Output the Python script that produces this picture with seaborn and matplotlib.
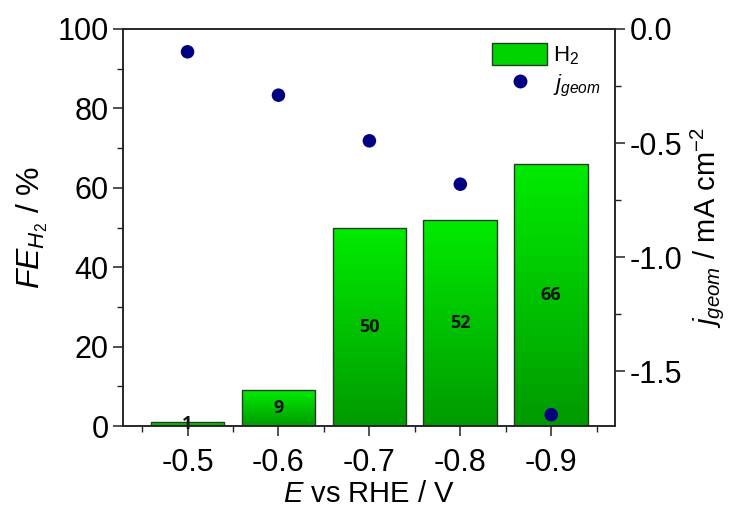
import numpy as np
import pandas as pd
import matplotlib
matplotlib.use("Agg")
import matplotlib.pyplot as plt
import seaborn as sns
from matplotlib.colors import LinearSegmentedColormap
from matplotlib.patches import Patch
from matplotlib.lines import Line2D
from matplotlib.ticker import MultipleLocator, FixedLocator

# ---- data ----
potentials = ["-0.5", "-0.6", "-0.7", "-0.8", "-0.9"]
fe_h2 = [1, 9, 50, 52, 66]
j_geom = [-0.10, -0.29, -0.49, -0.68, -1.69]
bar_labels = ["1", "9", "50", "52", "66"]

sns.set_style("ticks")
plt.rcParams["font.family"] = ["Liberation Sans", "DejaVu Sans"]
plt.rcParams["mathtext.fontset"] = "custom"
plt.rcParams["mathtext.rm"] = "Liberation Sans"
plt.rcParams["mathtext.it"] = "Liberation Sans:italic"
plt.rcParams["mathtext.bf"] = "Liberation Sans:bold"
plt.rcParams["text.color"] = "black"
plt.rcParams["axes.labelcolor"] = "black"
plt.rcParams["xtick.color"] = "black"
plt.rcParams["ytick.color"] = "black"

fig = plt.figure(figsize=(7.32, 5.14), dpi=100)
ax = fig.add_axes([0.168, 0.171, 0.672, 0.7726])

df = pd.DataFrame({"E": potentials, "FE": fe_h2})
sns.barplot(data=df, x="E", y="FE", order=potentials, ax=ax, width=0.81,
            color="#00c800", edgecolor="#2a3a2a", linewidth=1.0, saturation=1)

cmap = LinearSegmentedColormap.from_list("g", ["#009a00", "#00ec00"])
grad = np.linspace(0, 1, 256).reshape(-1, 1)
for bar in list(ax.patches):
    x0, y0 = bar.get_x(), bar.get_y()
    w, h = bar.get_width(), bar.get_height()
    im = ax.imshow(grad, extent=[x0, x0 + w, y0, y0 + h], aspect="auto",
                   cmap=cmap, origin="lower", zorder=bar.get_zorder() - 0.1)
    im.set_clip_path(bar)
    bar.set_facecolor("none")

for i, (v, lab) in enumerate(zip(fe_h2, bar_labels)):
    ax.text(i, v / 2, lab, ha="center", va="center", fontsize=13,
            fontweight="bold", color="#111111", family="Open Sans", zorder=5)

ax.set_xlim(-0.71, 4.70)
ax.set_ylim(0, 100)
ax.yaxis.set_major_locator(MultipleLocator(20))
ax.yaxis.set_minor_locator(MultipleLocator(10))
ax.xaxis.set_major_locator(FixedLocator(range(len(potentials))))
ax.set_xticklabels(potentials)
ax.xaxis.set_minor_locator(FixedLocator(np.arange(-0.5, len(potentials), 1.0)))

ax.set_xlabel(r"$E$ vs RHE / V", fontsize=21, labelpad=1)
ax.set_ylabel(r"$FE_{H_2}$ / %", fontsize=23, labelpad=5)

ax2 = ax.twinx()
sns.scatterplot(x=np.arange(len(potentials)), y=j_geom, ax=ax2, s=95,
                color="#000080", edgecolor="none", zorder=6)
ax2.set_ylim(-1.74, 0.0)
ax2.yaxis.set_major_locator(MultipleLocator(0.5))
ax2.yaxis.set_minor_locator(MultipleLocator(0.25))
ax2.set_ylabel(r"$j_{geom}$ / mA cm$^{-2}$", fontsize=21, labelpad=4)
ax2.yaxis.set_major_formatter(matplotlib.ticker.FormatStrFormatter("%.1f"))

for a in (ax, ax2):
    for s in a.spines.values():
        s.set_visible(True)
        s.set_color("#222222")
        s.set_linewidth(1.1)
    a.tick_params(which="major", length=7, width=1.1, color="#222222", labelsize=22,
                  direction="out")
    a.tick_params(which="minor", length=4, width=1.0, color="#222222", direction="out")
ax.tick_params(axis="x", which="major", pad=9)
ax.tick_params(axis="y", which="both", right=False)
ax2.tick_params(axis="y", which="both", left=False, right=True)

handles = [Patch(facecolor="#00d400", edgecolor="#2a3a2a", linewidth=1.0),
           Line2D([], [], marker="o", linestyle="none", markersize=10,
                  markerfacecolor="#000080", markeredgecolor="none")]
leg = ax2.legend(handles, [r"H$_2$", r"$j_{geom}$"], loc="upper right",
                 frameon=False, fontsize=16, handlelength=2.5, handleheight=1.1,
                 handletextpad=0.25, labelspacing=0.2,
                 bbox_to_anchor=(1.0, 1.0), borderaxespad=0.25)

fig.savefig("out.png", dpi=100)
